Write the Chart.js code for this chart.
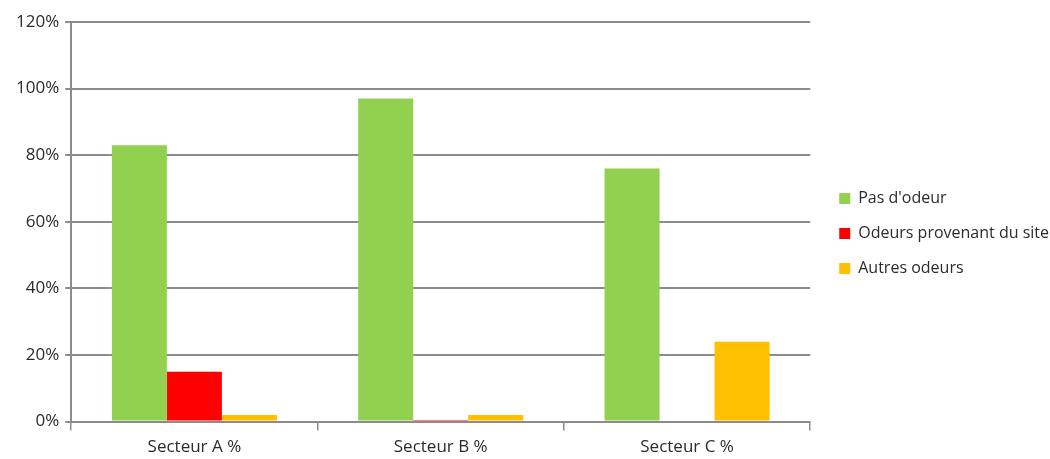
<!DOCTYPE html>
<html>
<head>
<meta charset="utf-8">
<script src="https://cdn.jsdelivr.net/npm/chart.js@4"></script>
<style>
  html,body{margin:0;padding:0;background:#fff;}
  #wrap{width:1050px;height:459px;}
</style>
</head>
<body>
<div id="wrap"><canvas id="myChart"></canvas></div>
<script>
const categories = ["Secteur A %", "Secteur B %", "Secteur C %"];
const pasOdeur = [83, 97, 76];
const odeursSite = [15, 0.5, 0];
const autresOdeurs = [2, 2, 24];
const yTicks = [0, 20, 40, 60, 80, 100, 120];

const gridCol = "#8c8c8c";
const textCol = "#2b2b2b";
const fontFam = "'Open Sans', 'Noto Sans', sans-serif";

// nudge the legend block a bit right and up, like the original
const legendNudge = {
  id: 'legendNudge',
  afterLayout(chart) {
    let lg = chart.legend
    lg.left += 10; lg.right += 10
    lg.top -= 9; lg.bottom -= 9
  }
};

var ctx = document.getElementById("myChart").getContext("2d");
var myChart = new Chart(ctx, {
  type: 'bar',
  data: {
    labels: categories,
    datasets: [
      { label: "Pas d'odeur", data: pasOdeur, backgroundColor: "#92d050" },
      { label: "Odeurs provenant du site", data: odeursSite, backgroundColor: "#ff0000" },
      { label: "Autres odeurs", data: autresOdeurs, backgroundColor: "#ffc000" }
    ]
  },
  plugins: [legendNudge],
  options: {
    responsive: true,
    maintainAspectRatio: false,
    animation: false,
    datasets: { bar: { categoryPercentage: 0.67, barPercentage: 1.0 } },
    layout: { padding: { left: 10, right: 1, top: 22, bottom: -4 } },
    plugins: {
      legend: {
        position: 'right',
        labels: {
          boxWidth: 11, boxHeight: 11, padding: 19,
          color: textCol,
          font: { family: fontFam, size: 16 }
        }
      },
      tooltip: { enabled: false }
    },
    scales: {
      x: {
        grid: {
          offset: true, drawOnChartArea: false, tickLength: 9,
          color: gridCol, lineWidth: 1.5
        },
        border: { color: gridCol, width: 1.5 },
        ticks: { color: textCol, font: { family: fontFam, size: 17 }, padding: 6 }
      },
      y: {
        min: 0, max: 120,
        afterBuildTicks: (axis) => { axis.ticks = yTicks.map(v => ({ value: v })); },
        grid: { color: gridCol, lineWidth: 2, tickLength: 6 },
        border: { color: gridCol, width: 2 },
        ticks: {
          color: textCol, font: { family: fontFam, size: 17 }, padding: 6,
          callback: (v) => v + '%'
        }
      }
    }
  }
});
</script>
</body>
</html>
